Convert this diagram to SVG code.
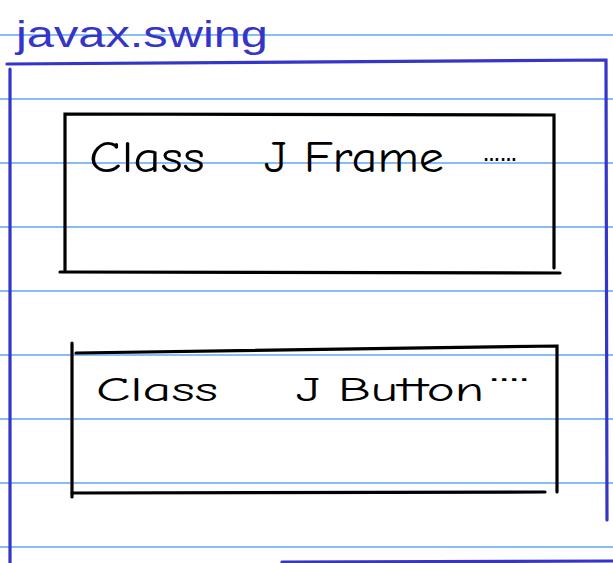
<svg xmlns="http://www.w3.org/2000/svg" width="613" height="563" viewBox="0 0 613 563">
<style>
.rule{stroke:#62a6f2;stroke-width:1.6;fill:none}
.pkg{stroke:#3535c8;stroke-width:3.2;fill:none;stroke-linecap:round}
.box{stroke:#000;stroke-width:3.2;fill:none;stroke-linecap:round}
.hand{font-family:"Comic Neue","Liberation Sans","DejaVu Sans",sans-serif;fill:#000}
.dots{font-family:"Liberation Sans","DejaVu Sans",sans-serif;fill:#000;font-weight:bold}
.title{font-family:"Liberation Sans","DejaVu Sans",sans-serif;fill:#3535c8;font-size:37px}
</style>
<rect width="613" height="563" fill="#fff"/>
<g id="paper">
<line class="rule" x1="0" y1="35" x2="613" y2="35"/>
<line class="rule" x1="0" y1="99" x2="613" y2="99"/>
<line class="rule" x1="0" y1="163" x2="613" y2="163"/>
<line class="rule" x1="0" y1="227" x2="613" y2="227"/>
<line class="rule" x1="0" y1="291" x2="613" y2="291"/>
<line class="rule" x1="0" y1="355" x2="613" y2="355"/>
<line class="rule" x1="0" y1="419" x2="613" y2="419"/>
<line class="rule" x1="0" y1="483" x2="613" y2="483"/>
<line class="rule" x1="0" y1="547" x2="613" y2="547"/>
</g>
<g id="package">
<text class="title" x="16" y="47" textLength="252" lengthAdjust="spacingAndGlyphs">javax.swing</text>
<path class="pkg" d="M7 64 L606 60 L607 520"/>
<path class="pkg" d="M10 69 L10 563"/>
<path class="pkg" d="M282 562 L613 561"/>
</g>
<g id="jframe">
<path class="box" d="M65 270 L65 114 L554 115 L554 268"/>
<path class="box" d="M60 272 L560 273"/>
<text class="hand" x="89" y="172" font-size="44" textLength="116" lengthAdjust="spacingAndGlyphs">Class</text>
<text class="hand" x="264" y="172" font-size="44" textLength="180" lengthAdjust="spacingAndGlyphs">J Frame</text>
<text class="dots" x="483" y="161" font-size="20" textLength="34" lengthAdjust="spacingAndGlyphs">……</text>
</g>
<g id="jbutton">
<path class="box" d="M72 343 L72 497"/>
<path class="box" d="M76 353 L557 346 L557 492"/>
<path class="box" d="M72 493 L545 492"/>
<text class="hand" x="96" y="401" font-size="34" textLength="122" lengthAdjust="spacingAndGlyphs">Class</text>
<text class="hand" x="296" y="401" font-size="34" textLength="188" lengthAdjust="spacingAndGlyphs">J Button</text>
<text class="dots" x="490" y="386" font-size="18" textLength="40" lengthAdjust="spacingAndGlyphs">····</text>
</g>
<g id="connectors"/>
</svg>
